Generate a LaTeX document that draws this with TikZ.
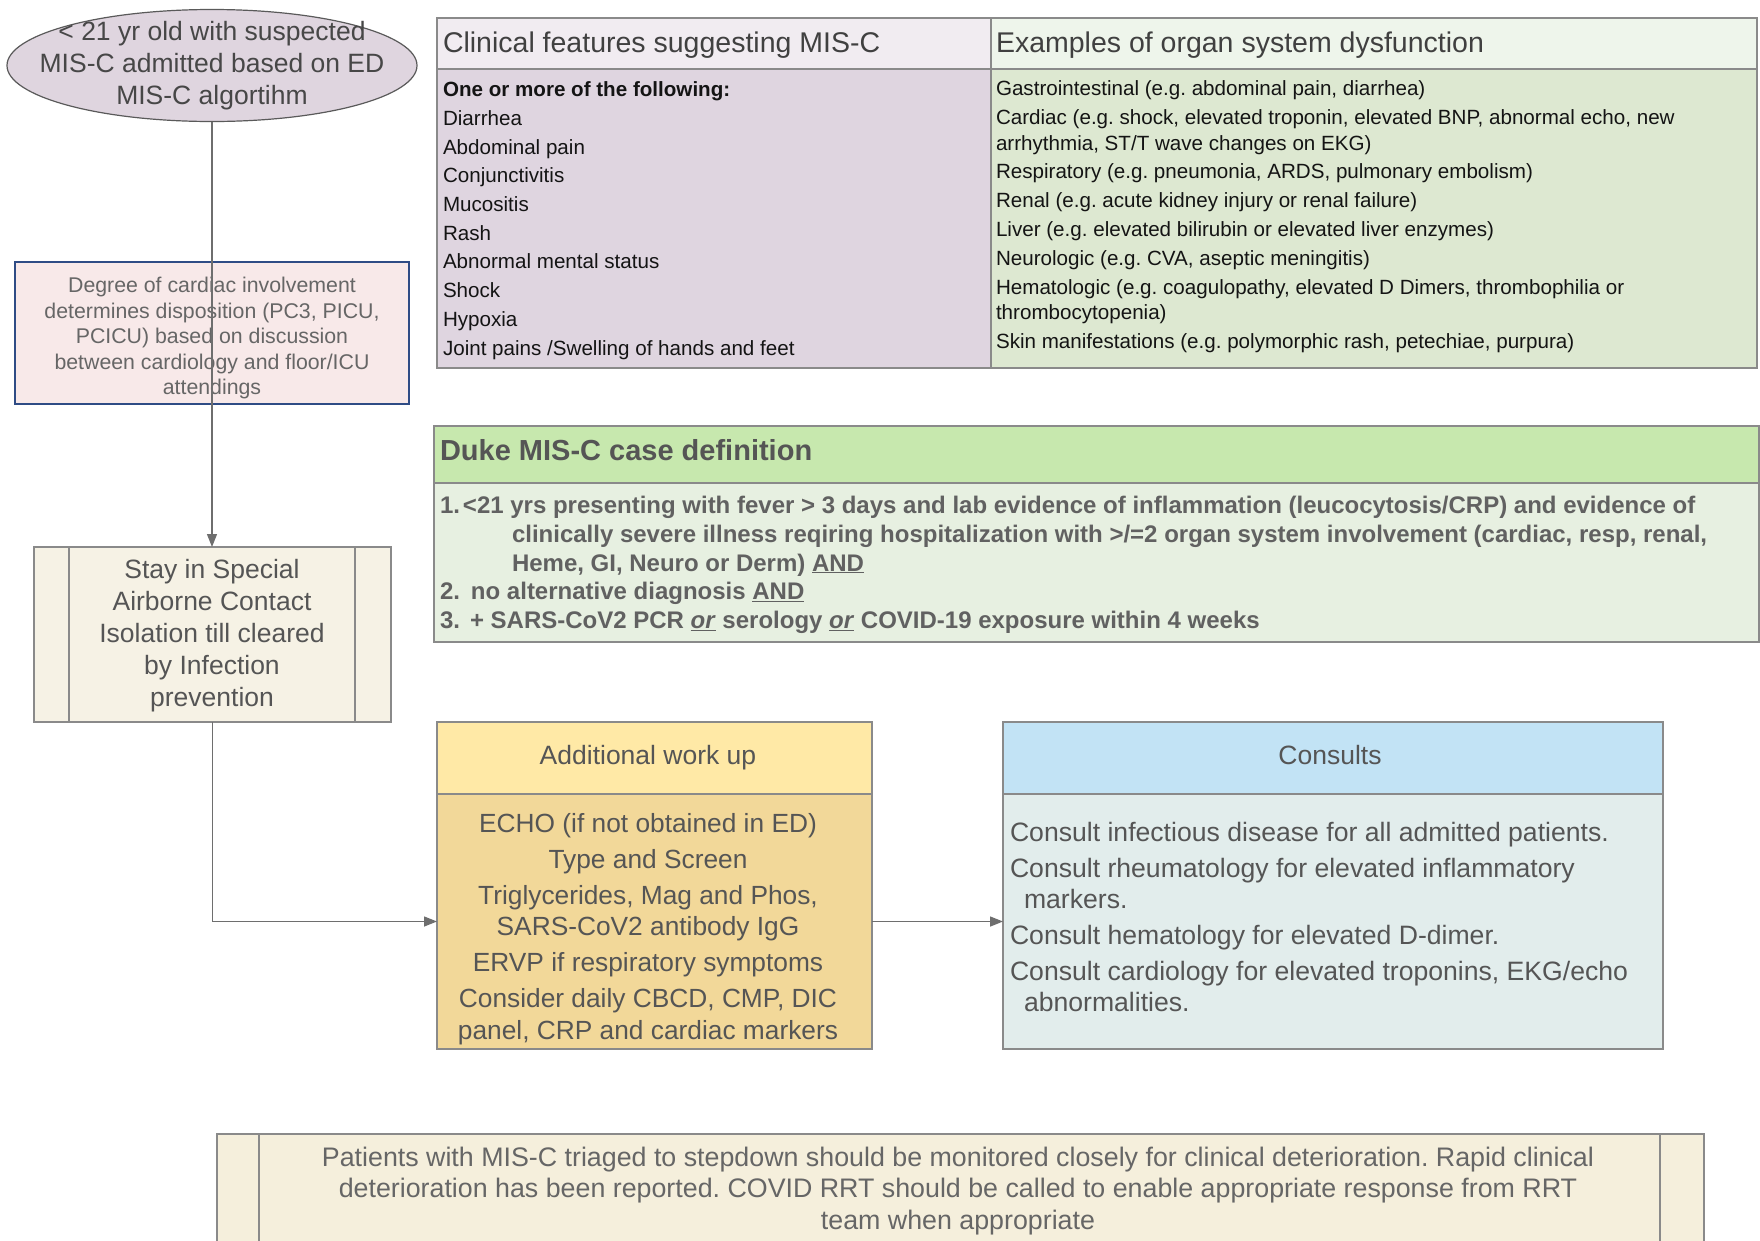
\documentclass[tikz,border=0pt]{standalone}
\usepackage{fontspec}
\setmainfont{Liberation Sans}
\usetikzlibrary{arrows.meta,shapes.geometric}
\frenchspacing
\definecolor{ellF}{HTML}{DFD5DF}
\definecolor{ellD}{HTML}{5A5A5A}
\definecolor{pinkF}{HTML}{F8E9E9}
\definecolor{pinkD}{HTML}{2F4C85}
\definecolor{stayF}{HTML}{F6F2E5}
\definecolor{clinH}{HTML}{F1ECF1}
\definecolor{clinB}{HTML}{DFD5E0}
\definecolor{exH}{HTML}{EEF5EB}
\definecolor{exB}{HTML}{DDE8D1}
\definecolor{dukeH}{HTML}{C7E8AE}
\definecolor{dukeB}{HTML}{E7F0E1}
\definecolor{addH}{HTML}{FFE9A6}
\definecolor{addB}{HTML}{F2D899}
\definecolor{conH}{HTML}{C2E3F5}
\definecolor{conB}{HTML}{E2EDEC}
\definecolor{botF}{HTML}{F5EFDC}
\definecolor{bord}{HTML}{8A8A8A}
\definecolor{arrowc}{HTML}{6E6E6E}
\definecolor{tgray}{HTML}{555555}
\definecolor{tlight}{HTML}{666666}
\begin{document}
\begin{tikzpicture}[x=1pt,y=-1pt,
  box/.style={draw=bord, line width=1.2pt, anchor=north west, inner sep=0pt, outer sep=0pt},
  conn/.style={draw=arrowc, line width=1.3pt, -{Triangle[length=13pt,width=10pt]}},
  txt/.style={inner sep=0pt, outer sep=0pt},
  big/.style={font=\fontsize{26.5}{32}\selectfont},
  hdr/.style={txt, anchor=base west, text=black!75, font=\fontsize{28.5}{34}\selectfont},
  small/.style={txt, anchor=base west, align=left, text=black!92}
]
\useasboundingbox (0,0) rectangle (1760,1240);
\clip (0,0) rectangle (1760,1240);
\fill[white] (0,0) rectangle (1760,1240);

% start ellipse
\node[ellipse, draw=ellD, fill=ellF, line width=1.2pt, minimum width=410pt, minimum height=112pt, inner sep=0pt] (start) at (212,65.5) {};
\node[txt, anchor=base, align=center, text=black!72, big] (startT) at (212,104.5)
  {< 21 yr old with suspected\\MIS-C admitted based on ED\\MIS-C algortihm};

% cardiac involvement box
\node[box, draw=pinkD, fill=pinkF, line width=1.3pt, minimum width=394pt, minimum height=142pt] (cardiac) at (15,262) {};
\node[txt, anchor=base, align=center, text=tlight, font=\fontsize{21.3}{25.5}\selectfont] (cardiacT) at (212,394.6)
  {Degree of cardiac involvement\\determines disposition (PC3, PICU,\\PCICU) based on  discussion\\between cardiology and floor/ICU\\attendings};

% stay box
\node[box, fill=stayF, minimum width=357pt, minimum height=175pt] (stay) at (34,547) {};
\draw[draw=bord, line width=1.2pt] ([xshift=35pt]stay.north west) -- ([xshift=35pt]stay.south west);
\draw[draw=bord, line width=1.2pt] ([xshift=-36pt]stay.north east) -- ([xshift=-36pt]stay.south east);
\node[txt, anchor=base, align=center, text=tgray, big] (stayT) at (212,706.5)
  {Stay in Special\\Airborne Contact\\Isolation till cleared\\by Infection\\prevention};

% clinical features and organ dysfunction tables
\node[box, fill=exH, minimum width=768pt, minimum height=51pt] (exHd) at (989,18) {};
\node[box, fill=exB, minimum width=768pt, minimum height=299pt] (exBd) at (989,69) {};
\node[box, fill=clinH, minimum width=554pt, minimum height=51pt] (clinHd) at (437,18) {};
\node[box, fill=clinB, minimum width=554pt, minimum height=299pt] (clinBd) at (437,69) {};
\node[hdr] (clinHt) at (443,52.3) {Clinical features suggesting MIS-C};
\node[small, font=\fontsize{20.6}{28.7}\selectfont] (clinBt) at (443,355)
  {\textbf{One or more of the following:}\\Diarrhea\\Abdominal pain\\Conjunctivitis\\Mucositis\\Rash\\Abnormal mental status\\Shock\\Hypoxia\\Joint pains /Swelling of hands and feet};
\node[hdr] (exHt) at (996,52.3) {Examples of organ system dysfunction};
\node[small, font=\fontsize{20.6}{25.5}\selectfont] (exBt) at (996,348.4)
  {Gastrointestinal (e.g. abdominal pain, diarrhea)\\[3.3pt]
   Cardiac (e.g. shock, elevated troponin, elevated BNP, abnormal echo, new\\
   arrhythmia, ST/T wave changes on EKG)\\[3.3pt]
   Respiratory (e.g. pneumonia, ARDS, pulmonary embolism)\\[3.3pt]
   Renal (e.g. acute kidney injury or renal failure)\\[3.3pt]
   Liver (e.g. elevated bilirubin or elevated liver enzymes)\\[3.3pt]
   Neurologic (e.g. CVA, aseptic meningitis)\\[3.3pt]
   Hematologic (e.g. coagulopathy, elevated D Dimers, thrombophilia or\\
   thrombocytopenia)\\[3.3pt]
   Skin manifestations (e.g. polymorphic rash, petechiae, purpura)};

% Duke case definition
\node[box, fill=dukeH, minimum width=1325pt, minimum height=57pt] (dukeHd) at (434,426) {};
\node[box, fill=dukeB, minimum width=1325pt, minimum height=159pt] (dukeBd) at (434,483) {};
\node[txt, anchor=base west, text=tgray, font=\bfseries\fontsize{29}{34}\selectfont] (dukeHt) at (440,460.4) {Duke MIS-C case definition};
\node[txt, anchor=base west, align=left, text=black!62, font=\bfseries\fontsize{24}{28.7}\selectfont] (dukeBt) at (440,628.6)
  {\makebox[23pt][l]{1.}<21 yrs presenting with fever > 3 days and lab evidence of inflammation (leucocytosis/CRP) and evidence of\\
   \hspace*{72pt}clinically severe illness reqiring hospitalization with >/=2 organ system involvement (cardiac, resp, renal,\\
   \hspace*{72pt}Heme, GI, Neuro or Derm) \underline{AND}\\
   \makebox[31pt][l]{2.}no alternative diagnosis \underline{AND}\\
   \makebox[30pt][l]{3.}+ SARS-CoV2 PCR \underline{\textit{or}} serology \underline{\textit{or}} COVID-19 exposure within 4 weeks};

% Additional work up
\node[box, fill=addH, minimum width=435pt, minimum height=72pt] (addHd) at (437,722) {};
\node[box, fill=addB, minimum width=435pt, minimum height=255pt] (addBd) at (437,794) {};
\node[txt, anchor=base, text=tgray, big] (addHt) at (648,764.5) {Additional work up};
\node[txt, anchor=base, align=center, text=tgray, font=\fontsize{26.3}{31.5}\selectfont] (addBt) at (648,1039.4)
  {ECHO (if not obtained in ED)\\[4.5pt]
   Type and Screen\\[4.5pt]
   Triglycerides, Mag and Phos,\\
   SARS-CoV2 antibody IgG\\[4.5pt]
   ERVP if respiratory symptoms\\[4.5pt]
   Consider daily CBCD, CMP, DIC\\
   panel, CRP and cardiac markers};

% Consults
\node[box, fill=conH, minimum width=660pt, minimum height=72pt] (conHd) at (1003,722) {};
\node[box, fill=conB, minimum width=660pt, minimum height=255pt] (conBd) at (1003,794) {};
\node[txt, anchor=base, text=tgray, big] (conHt) at (1330,764.5) {Consults};
\node[txt, anchor=base west, align=left, text=tgray, font=\fontsize{26.6}{31}\selectfont] (conBt) at (1010,1011.5)
  {Consult infectious disease for all admitted patients.\\[5pt]
   Consult rheumatology for elevated inflammatory\\
   \hspace*{14pt}markers.\\[5pt]
   Consult hematology for elevated D-dimer.\\[5pt]
   Consult cardiology for elevated troponins, EKG/echo\\
   \hspace*{14pt}abnormalities.};

% bottom note
\node[box, fill=botF, minimum width=1487pt, minimum height=130pt] (note) at (217,1134) {};
\draw[draw=bord, line width=1.2pt] ([xshift=42pt]note.north west) -- ([xshift=42pt]note.south west);
\draw[draw=bord, line width=1.2pt] ([xshift=-44pt]note.north east) -- ([xshift=-44pt]note.south east);
\node[txt, anchor=base, align=center, text=tlight, font=\fontsize{26.8}{31.5}\selectfont] (noteT) at (958,1229.4)
  {Patients with MIS-C triaged to stepdown  should be monitored closely for clinical deterioration. Rapid clinical\\
   deterioration has been reported. COVID RRT should be called to enable appropriate response from RRT\\
   team when appropriate};

% connectors
\draw[conn] (start.south) -- (start.south |- stay.north);
\draw[conn] (stay.south) |- (addBd.west);
\draw[conn] (addBd.east) -- (conBd.west);
\end{tikzpicture}
\end{document}
